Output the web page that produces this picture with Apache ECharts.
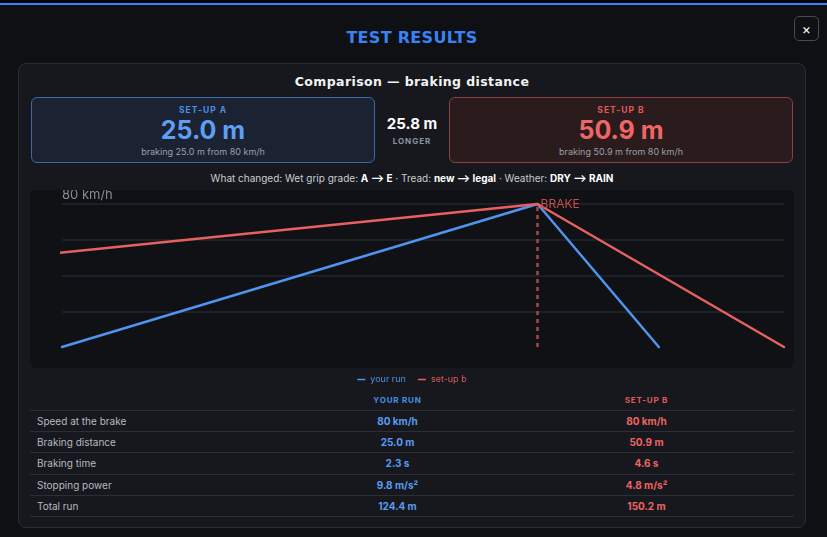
<!DOCTYPE html>
<html><head><meta charset="utf-8">
<script src="https://cdn.jsdelivr.net/npm/echarts@6/dist/echarts.min.js"></script>
<style>
html,body{margin:0;padding:0;width:827px;height:537px;overflow:hidden;background:#0e1014;font-family:Inter,"Noto Sans",sans-serif;}
.abs{position:absolute;}
.c{position:absolute;transform:translate(-50%,-50%);white-space:nowrap;}
.tech{font-family:"DejaVu Sans",sans-serif;font-weight:bold;}
table{border-collapse:collapse;}
</style></head>
<body>
<div class="abs" style="left:0;top:0;width:827px;height:3px;background:#08090c"></div>
<div class="abs" style="left:0;top:3px;width:827px;height:2px;background:#3b82f6"></div>
<div class="abs" style="left:794px;top:16px;width:23px;height:23px;border:1px solid #464a51;border-radius:5px;color:#fff;font-size:14px;line-height:23px;text-align:center;">×</div>
<div class="c tech" style="left:412px;top:37px;color:#3b82f6;font-size:16px;letter-spacing:0.3px;">TEST RESULTS</div>

<div class="abs" style="left:18px;top:63px;width:786px;height:463px;background:#16181d;border:1px solid #2a2d33;border-radius:8px;"></div>
<div class="c tech" style="left:412px;top:81px;color:#f2f2f2;font-size:12.5px;letter-spacing:0.4px;">Comparison — braking distance</div>

<div class="abs" style="left:31px;top:97px;width:342px;height:64px;background:#1b2232;border:1px solid #3a69a6;border-radius:6px;"></div>
<div class="c" id="aLab" style="left:203px;top:110px;color:#4f8fe0;font-size:8.5px;font-weight:700;letter-spacing:1px;"></div>
<div class="c" id="aVal" style="left:203px;top:130px;color:#5e9ff4;font-size:25px;font-weight:700;"></div>
<div class="c" id="aSub" style="left:203px;top:151px;color:#9aa0aa;font-size:9px;"></div>

<div class="abs" style="left:449px;top:97px;width:342px;height:64px;background:#2a1b1d;border:1px solid #8e3d40;border-radius:6px;"></div>
<div class="c" id="bLab" style="left:621px;top:110px;color:#e05a5a;font-size:8.5px;font-weight:700;letter-spacing:1px;"></div>
<div class="c" id="bVal" style="left:621px;top:130px;color:#f06666;font-size:25px;font-weight:700;"></div>
<div class="c" id="bSub" style="left:621px;top:151px;color:#9aa0aa;font-size:9px;"></div>

<div class="c" id="diff" style="left:412px;top:123px;color:#ffffff;font-size:15px;font-weight:700;"></div>
<div class="c" style="left:412px;top:141px;color:#8c95a3;font-size:8px;font-weight:700;letter-spacing:1px;">LONGER</div>

<div class="c" style="left:412px;top:178px;color:#c8ccd2;font-size:10px;">What changed: Wet grip grade: <b style="color:#fff">A ⟶ E</b> · Tread: <b style="color:#fff">new ⟶ legal</b> · Weather: <b style="color:#fff">DRY ⟶ RAIN</b></div>

<div class="abs" style="left:30px;top:190px;width:764px;height:178px;background:#0f1115;border-radius:6px;"></div>
<div class="abs" id="chart" style="left:30px;top:190px;width:764px;height:200px;"></div>

<table class="abs" id="tbl" style="left:30px;top:390px;width:764px;font-size:10px;"></table>

<script>
// ---- data ----
const seriesNames = ['your run', 'set-up b'];
const distYou = [0, 98.8, 124.0];
const speedYou = [0, 80, 0];
const distB = [-6.6, 98.8, 150.0];
const speedB = [51, 80, 0];
const brakeAt = 98.8;
const speedTicks = [0, 20, 40, 60, 80];
const distA = 25.0, distBrk = 50.9, diffVal = 25.8, startSpeed = 80;

const rowLabels = ['Speed at the brake', 'Braking distance', 'Braking time', 'Stopping power', 'Total run'];
const yourVals = ['80 km/h', '25.0 m', '2.3 s', '9.8 m/s²', '124.4 m'];
const setupBVals = ['80 km/h', '50.9 m', '4.6 s', '4.8 m/s²', '150.2 m'];
const colHeaders = ['YOUR RUN', 'SET-UP B'];

// ---- header texts ----
document.getElementById('aLab').textContent = 'SET-UP A';
document.getElementById('aVal').textContent = distA.toFixed(1) + ' m';
document.getElementById('aSub').textContent = 'braking ' + distA.toFixed(1) + ' m from ' + startSpeed + ' km/h';
document.getElementById('bLab').textContent = 'SET-UP B';
document.getElementById('bVal').textContent = distBrk.toFixed(1) + ' m';
document.getElementById('bSub').textContent = 'braking ' + distBrk.toFixed(1) + ' m from ' + startSpeed + ' km/h';
document.getElementById('diff').textContent = diffVal.toFixed(1) + ' m';

// ---- table ----
const BLUE = '#5a9bf2', RED = '#ef6363';
let html = '<tr style="height:20px"><td style="width:264px"></td>' +
  '<td style="width:201px;text-align:center;color:#4a8de8;font-size:8px;font-weight:700;letter-spacing:0.8px;">' + colHeaders[0] + '</td>' +
  '<td style="text-align:center;color:#e05a5a;font-size:8px;font-weight:700;letter-spacing:0.8px;">' + colHeaders[1] + '</td></tr>';
rowLabels.forEach((l, i) => {
  html += '<tr style="height:21.4px;border-top:1px solid #2b2e34;' + (i === rowLabels.length - 1 ? 'border-bottom:1px solid #2b2e34;' : '') + '">' +
    '<td style="padding:0 0 0 7px;color:#b4bac3;">' + l + '</td>' +
    '<td style="text-align:center;color:' + BLUE + ';font-weight:700;">' + yourVals[i] + '</td>' +
    '<td style="text-align:center;color:' + RED + ';font-weight:700;">' + setupBVals[i] + '</td></tr>';
});
document.getElementById('tbl').innerHTML = html;

// ---- chart ----
const chart = echarts.init(document.getElementById('chart'), null, {renderer: 'canvas'});
chart.setOption({
  animation: false,
  grid: {left: 32, right: 10, top: 14, bottom: 43, outerBoundsMode: 'none', containLabel: false},
  legend: {
    top: 180, left: 'center', icon: 'rect', itemWidth: 8, itemHeight: 1.5, itemGap: 12,
    textStyle: {fontSize: 9, fontFamily: 'Inter'},
    data: [
      {name: seriesNames[0], textStyle: {color: '#4f8fe8'}},
      {name: seriesNames[1], textStyle: {color: '#e05a5a'}}
    ]
  },
  xAxis: {type: 'value', min: 0, max: 150, show: false, splitLine: {show: false}},
  yAxis: {
    type: 'value', min: speedTicks[0], max: speedTicks[speedTicks.length - 1], interval: 20,
    name: speedTicks[speedTicks.length - 1] + ' km/h', nameLocation: 'end', nameGap: 9,
    nameTextStyle: {color: '#878b92', fontSize: 13, align: 'left', verticalAlign: 'middle', fontFamily: 'Inter'},
    axisLine: {show: false}, axisTick: {show: false}, axisLabel: {show: false},
    splitLine: {show: true, showMinLine: false, lineStyle: {color: '#23262c', width: 1.5}}
  },
  series: [
    {
      name: seriesNames[0], type: 'line', showSymbol: false, symbol: 'none', clip: false,
      data: distYou.map((d, i) => [d, speedYou[i]]),
      lineStyle: {color: '#4f94ef', width: 2.5, cap: 'round'}, itemStyle: {color: '#4f94ef'}
    },
    {
      name: seriesNames[1], type: 'line', showSymbol: false, symbol: 'none', clip: false,
      data: distB.map((d, i) => [d, speedB[i]]),
      lineStyle: {color: '#e8605f', width: 2.5, cap: 'round'}, itemStyle: {color: '#e8605f'},
      markLine: {
        silent: true, symbol: 'none', label: {show: false},
        lineStyle: {color: '#b8403f', width: 2.5, type: [4, 4]},
        data: [{xAxis: brakeAt}]
      },
      markPoint: {
        silent: true, symbol: 'circle', symbolSize: 0,
        label: {show: true, position: 'right', distance: 3, formatter: 'BRAKE', color: '#c4504e', fontSize: 12, fontFamily: 'Inter'},
        data: [{coord: [brakeAt, speedTicks[speedTicks.length - 1]]}]
      }
    }
  ]
});
</script>
</body></html>
